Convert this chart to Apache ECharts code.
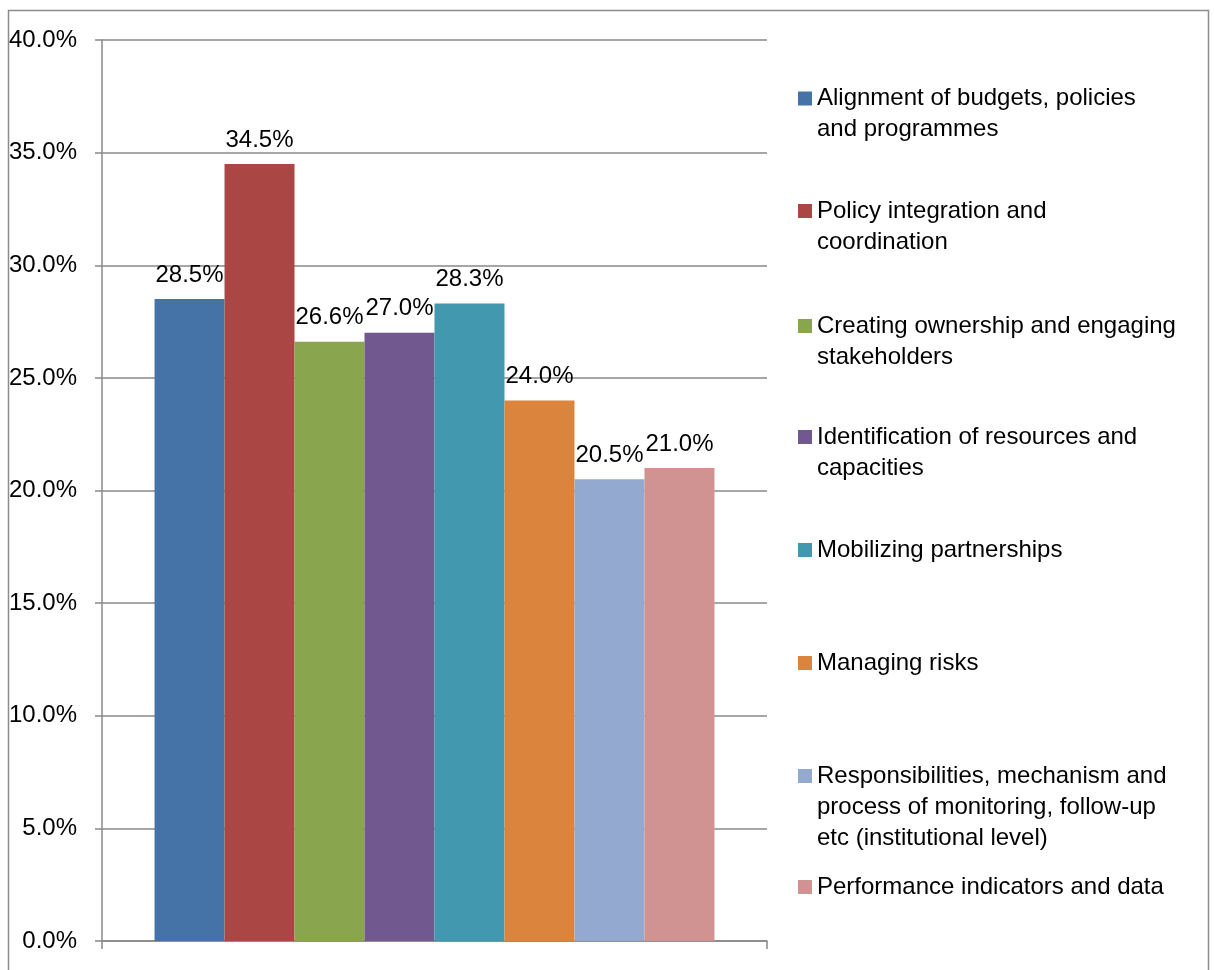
<!DOCTYPE html>
<html>
<head>
<meta charset="utf-8">
<script src="https://cdn.jsdelivr.net/npm/echarts@6/dist/echarts.min.js"></script>
<style>
html,body{margin:0;padding:0;background:#fff;}
#chart{width:1214px;height:970px;}
</style>
</head>
<body>
<div id="chart"></div>
<script>
const seriesNames = [
  'Alignment of budgets, policies and programmes',
  'Policy integration and coordination',
  'Creating ownership and engaging stakeholders',
  'Identification of resources and capacities',
  'Mobilizing partnerships',
  'Managing risks',
  'Responsibilities, mechanism and process of monitoring, follow-up etc (institutional level)',
  'Performance indicators and data'
];
const legendLines = [
  ['Alignment of budgets, policies', 'and programmes'],
  ['Policy integration and', 'coordination'],
  ['Creating ownership and engaging', 'stakeholders'],
  ['Identification of resources and', 'capacities'],
  ['Mobilizing partnerships'],
  ['Managing risks'],
  ['Responsibilities, mechanism and', 'process of monitoring, follow-up', 'etc (institutional level)'],
  ['Performance indicators and data']
];
const values = [28.5, 34.5, 26.6, 27.0, 28.3, 24.0, 20.5, 21.0];
const colors = ['#4572A7', '#AA4643', '#89A54E', '#71588F', '#4198AF', '#DB843D', '#93A9CF', '#D19392'];
const legendCenters = [98.5, 211, 326, 437, 550, 663, 776, 887];
const category = [''];

const FONT = 'Liberation Sans';
const FS = 24;
const LH = 31;

const chart = echarts.init(document.getElementById('chart'));

const legends = seriesNames.map((name, i) => {
  const n = legendLines[i].length;
  const text = '\n'.repeat(n - 1) + legendLines[i].join('\n');
  return {
    data: [name],
    orient: 'vertical',
    left: 798,
    top: legendCenters[i] - (2 * n - 1) * LH / 2,
    padding: 0,
    itemWidth: 14,
    itemHeight: 14,
    icon: 'rect',
    selectedMode: false,
    formatter: () => text,
    textStyle: {
      fontFamily: FONT,
      fontSize: FS,
      lineHeight: LH,
      color: '#000'
    }
  };
});

const series = seriesNames.map((name, i) => ({
  name: name,
  type: 'bar',
  data: [values[i]],
  barGap: '0%',
  barCategoryGap: '15.8%',
  itemStyle: { color: colors[i] },
  label: {
    show: true,
    position: 'top',
    distance: 12,
    fontFamily: FONT,
    fontSize: FS,
    color: '#000',
    formatter: p => p.value.toFixed(1) + '%'
  },
  emphasis: { disabled: true }
}));

chart.setOption({
  animation: false,
  backgroundColor: '#fff',
  graphic: [{
    type: 'rect',
    shape: { x: 8.5, y: 10.5, width: 1200, height: 1000 },
    style: { fill: 'none', stroke: '#8c8c8c', lineWidth: 1.5 },
    silent: true,
    z: -1
  }],
  grid: { left: 102, right: 447, top: 40, bottom: 29 },
  legend: legends,
  xAxis: {
    type: 'category',
    data: category,
    axisLine: { show: true, lineStyle: { color: '#888', width: 1.5 } },
    axisTick: { show: true, length: 8, lineStyle: { color: '#888', width: 1.5 } },
    axisLabel: { show: false },
    splitLine: { show: false }
  },
  yAxis: {
    type: 'value',
    min: 0,
    max: 40,
    interval: 5,
    axisLine: { show: true, lineStyle: { color: '#888', width: 1.5 } },
    axisTick: { show: true, length: 7, lineStyle: { color: '#888', width: 1.5 } },
    splitLine: { show: true, lineStyle: { color: '#888', width: 1.5 } },
    axisLabel: {
      margin: 25,
      fontFamily: FONT,
      fontSize: FS,
      color: '#000',
      formatter: v => v.toFixed(1) + '%'
    }
  },
  series: series
});
</script>
</body>
</html>
